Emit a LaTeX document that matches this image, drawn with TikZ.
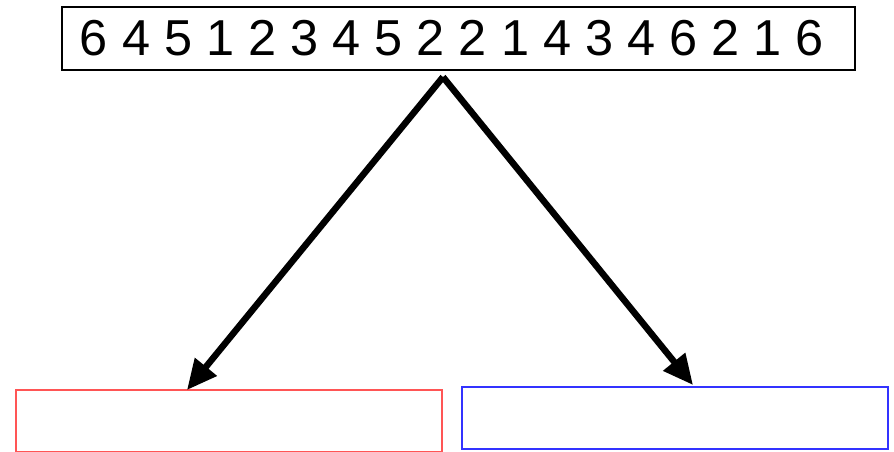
\documentclass[tikz,border=0pt]{standalone}
\usepackage{fontspec}
\setmainfont{Liberation Sans}
\usetikzlibrary{arrows.meta}
\begin{document}
\begin{tikzpicture}[x=1pt,y=-1pt,
  seqbox/.style={draw=black,line width=1.5pt,minimum width=793pt,minimum height=63pt,inner sep=0pt},
  seqtext/.style={font=\fontsize{50.5}{50.5}\selectfont,inner sep=0pt},
  bigarrow/.style={line width=6.5pt,-{Triangle[length=30pt,width=27pt]}}]
\useasboundingbox (0,0) rectangle (894,451);
\node[seqbox] (seq) at (458.5,38.5) {};
\node[seqtext] (digits) at (452,38) {6 4 5 1 2 3 4 5 2 2 1 4 3 4 6 2 1 6};
\draw[draw={rgb,255:red,255;green,85;blue,85},line width=2pt] (16,390) rectangle (442,451.5);
\draw[draw={rgb,255:red,51;green,51;blue,255},line width=2pt] (462,387) rectangle (888,449);
\coordinate (top) at (443,77);
\coordinate (lt) at (187,390);
\coordinate (rt) at (693,385);
\draw[bigarrow] (top) -- (lt);
\draw[bigarrow] (top) -- (rt);
\end{tikzpicture}
\end{document}
